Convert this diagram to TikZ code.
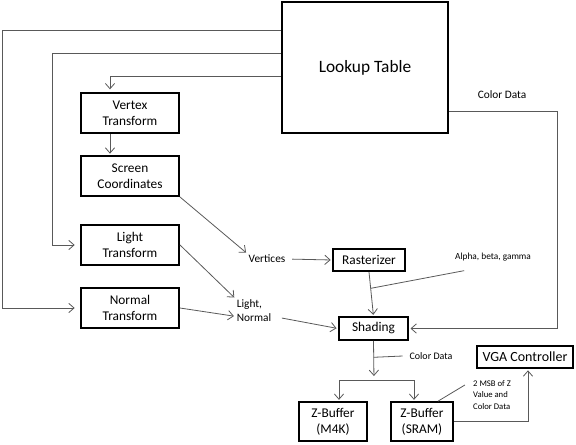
\documentclass[tikz,border=0pt]{standalone}
\usepackage{fontspec}
\setmainfont{Carlito}
\usetikzlibrary{arrows.meta}

\begin{document}
\begin{tikzpicture}[x=0.75pt,y=-0.75pt,
  block/.style={draw, line width=1.5pt, align=center, inner sep=0pt, font=\fontsize{10}{12}\selectfont},
  lbl/.style={align=left, inner sep=1pt},
  flow/.style={draw=black!65, line width=0.6pt, -{Straight Barb[length=4pt,width=7pt]}, shorten >=1pt},
  lead/.style={draw=black!65, line width=0.6pt}]
  \useasboundingbox (0,0) rectangle (576,444);
  % Nodes
  \node[block, minimum width=124.5pt, minimum height=98pt, font=\fontsize{13}{15}\selectfont] (lut) at (365,67.5) {Lookup Table};
  \node[block, minimum width=73.5pt, minimum height=30pt] (vertex) at (130,113) {Vertex\\Transform};
  \node[block, minimum width=73.5pt, minimum height=30pt] (screen) at (130,176) {Screen\\Coordinates};
  \node[block, minimum width=73.5pt, minimum height=30pt] (light) at (130,245) {Light\\Transform};
  \node[block, minimum width=73.5pt, minimum height=30pt] (normal) at (130,308) {Normal\\Transform};
  \node[block, minimum width=54pt, minimum height=16.5pt] (raster) at (369,260) {Rasterizer};
  \node[block, minimum width=52pt, minimum height=17pt] (shading) at (373.5,328.5) {Shading};
  \node[block, minimum width=51pt, minimum height=29pt] (zmfk) at (333,421.5) {Z-Buffer\\(M4K)};
  \node[block, minimum width=46.5pt, minimum height=29pt] (zsram) at (422,421.5) {Z-Buffer\\(SRAM)};
  \node[block, minimum width=72pt, minimum height=16.5pt, font=\fontsize{10.5}{12}\selectfont] (vga) at (525,357) {VGA Controller};

  % Labels
  \node[lbl, font=\fontsize{8.5}{10}\selectfont] (vertices) at (267,259) {Vertices};
  \node[lbl, font=\fontsize{8.5}{10.5}\selectfont] (lightnormal) at (254,311) {Light,\\Normal};
  \node[lbl, font=\fontsize{7}{8}\selectfont] (abg) at (493,257) {Alpha, beta, gamma};
  \node[lbl, font=\fontsize{8.5}{10}\selectfont] (colorlut) at (502,95) {Color Data};
  \node[lbl, font=\fontsize{7.5}{9}\selectfont] (colorshade) at (431,356) {Color Data};
  \node[lbl, font=\fontsize{6.5}{8.5}\selectfont] (msb) at (492,395) {2 MSB of Z\\Value and\\Color Data};

  \coordinate (outerc) at (2,30);
  \coordinate (midc) at (52,53);
  \coordinate (innerc) at (110,76);
  \coordinate (rightc) at (557,111);
  \coordinate (split) at (374,380);

  % Lookup table outputs
  \draw[flow, shorten >=4pt] (lut.west |- outerc) -- (outerc) |- (normal.west);
  \draw[flow, shorten >=4pt] (lut.west |- midc) -- (midc) |- (light.west);
  \draw[flow, shorten >=2pt] (lut.west |- innerc) -| ([xshift=-15pt]vertex.north);
  \draw[flow] (lut.east |- rightc) -- (rightc) |- (shading.east);

  % Pipeline
  \draw[flow] ([xshift=-15pt]vertex.south) -- ([xshift=-15pt]screen.north);
  \draw[flow] (screen.south east) -- (vertices.north west);
  \draw[flow, shorten <=4pt] (vertices.east) -- (raster.west);
  \draw[flow] (light.east) -- (lightnormal.north west);
  \draw[flow] (normal.east) -- ([yshift=-4pt]lightnormal.west);
  \draw[flow, shorten <=7pt] ([yshift=-4pt]lightnormal.east) -- (shading.west);
  \draw[flow] (raster.south) -- (shading.north);
  \path (raster.south) -- (shading.north) coordinate[pos=0.37] (abgfoot);
  \draw[lead] (abgfoot) -- ([shift={(8pt,-6pt)}]abg.south west);

  \draw[flow, shorten >=3pt] (shading.south) -- (split);
  \path (shading.south) -- (split) coordinate[pos=0.42] (cdfoot);
  \draw[lead] (cdfoot) -- ([xshift=-4pt]colorshade.west);
  \draw[flow] (split) -| ([xshift=4.5pt]zmfk.north);
  \draw[flow] (split) -| ([xshift=-6pt]zsram.north);
  \draw[flow] (zsram.east) -| ([xshift=2.25pt]vga.south);
  \draw[lead] ([xshift=12pt]zsram.north) -- ([shift={(-5pt,7.5pt)}]msb.west);
\end{tikzpicture}
\end{document}
